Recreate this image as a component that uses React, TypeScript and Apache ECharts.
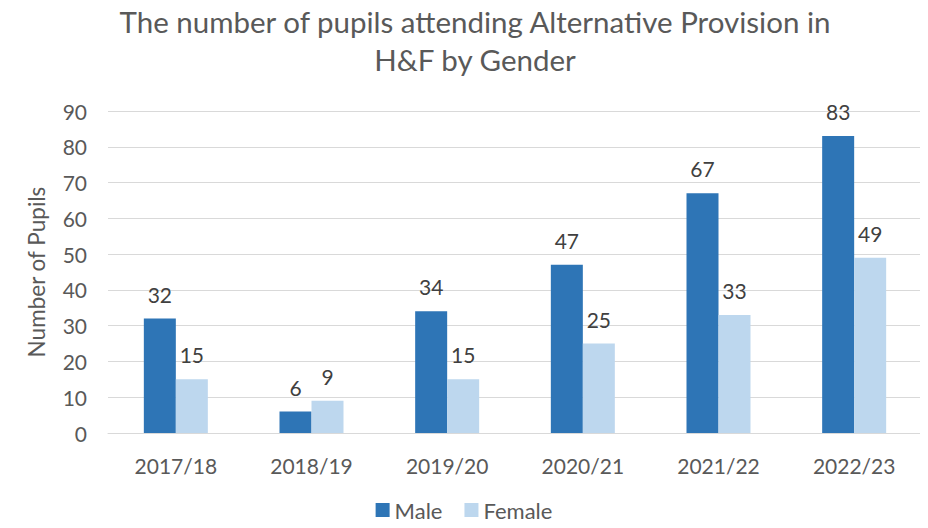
import React, { useEffect, useRef } from "react";
import * as echarts from "echarts";

const categories = ["2017/18", "2018/19", "2019/20", "2020/21", "2021/22", "2022/23"];
const maleValues = [32, 6, 34, 47, 67, 83];
const femaleValues = [15, 9, 15, 25, 33, 49];
const yTicks = { min: 0, max: 90, interval: 10 };

const FONT = "Lato";

export default function App() {
  const ref = useRef<HTMLDivElement>(null);
  useEffect(() => {
    if (!ref.current) return;
    const chart = echarts.init(ref.current, undefined, { renderer: "svg" });
    const labelStyle = { show: true, position: "top" as const, distance: 14, color: "#404040", fontSize: 21, fontFamily: FONT };
    chart.setOption({
      animation: false,
      backgroundColor: "#ffffff",
      title: {
        text: "The number of pupils attending Alternative Provision in\nH&F by Gender",
        left: 470,
        textAlign: "center",
        top: -3,
        textStyle: { color: "#595959", fontSize: 29.5, fontWeight: "normal", fontFamily: FONT, lineHeight: 38 },
      },
      legend: {
        bottom: 2,
        left: "center",
        itemWidth: 14,
        itemHeight: 14,
        itemGap: 22,
        icon: "rect",
        textStyle: { color: "#595959", fontSize: 22, fontFamily: FONT },
        data: ["Male", "Female"],
      },
      grid: { left: 108, right: 6, top: 111, bottom: 95 },
      xAxis: {
        type: "category",
        data: categories,
        axisLine: { lineStyle: { color: "#D9D9D9" } },
        axisTick: { show: false },
        axisLabel: { color: "#595959", fontSize: 21, fontFamily: FONT, margin: 22 },
      },
      yAxis: {
        type: "value",
        min: yTicks.min,
        max: yTicks.max,
        interval: yTicks.interval,
        name: "Number of Pupils",
        nameLocation: "middle",
        nameGap: 60,
        nameTextStyle: { color: "#595959", fontSize: 22.5, fontFamily: FONT },
        axisLine: { show: false },
        axisTick: { show: false },
        axisLabel: { color: "#595959", fontSize: 21, fontFamily: FONT, margin: 21 },
        splitLine: { lineStyle: { color: "#D9D9D9" } },
      },
      series: [
        {
          name: "Male",
          type: "bar",
          data: maleValues,
          barWidth: 32,
          barGap: "0%",
          itemStyle: { color: "#2E75B6" },
          label: labelStyle,
        },
        {
          name: "Female",
          type: "bar",
          data: femaleValues,
          barWidth: 32,
          barGap: "0%",
          itemStyle: { color: "#BDD7EE" },
          label: labelStyle,
        },
      ],
    });
    return () => chart.dispose();
  }, []);
  return <div ref={ref} style={{ width: 928, height: 528, margin: -8 }} />;
}
